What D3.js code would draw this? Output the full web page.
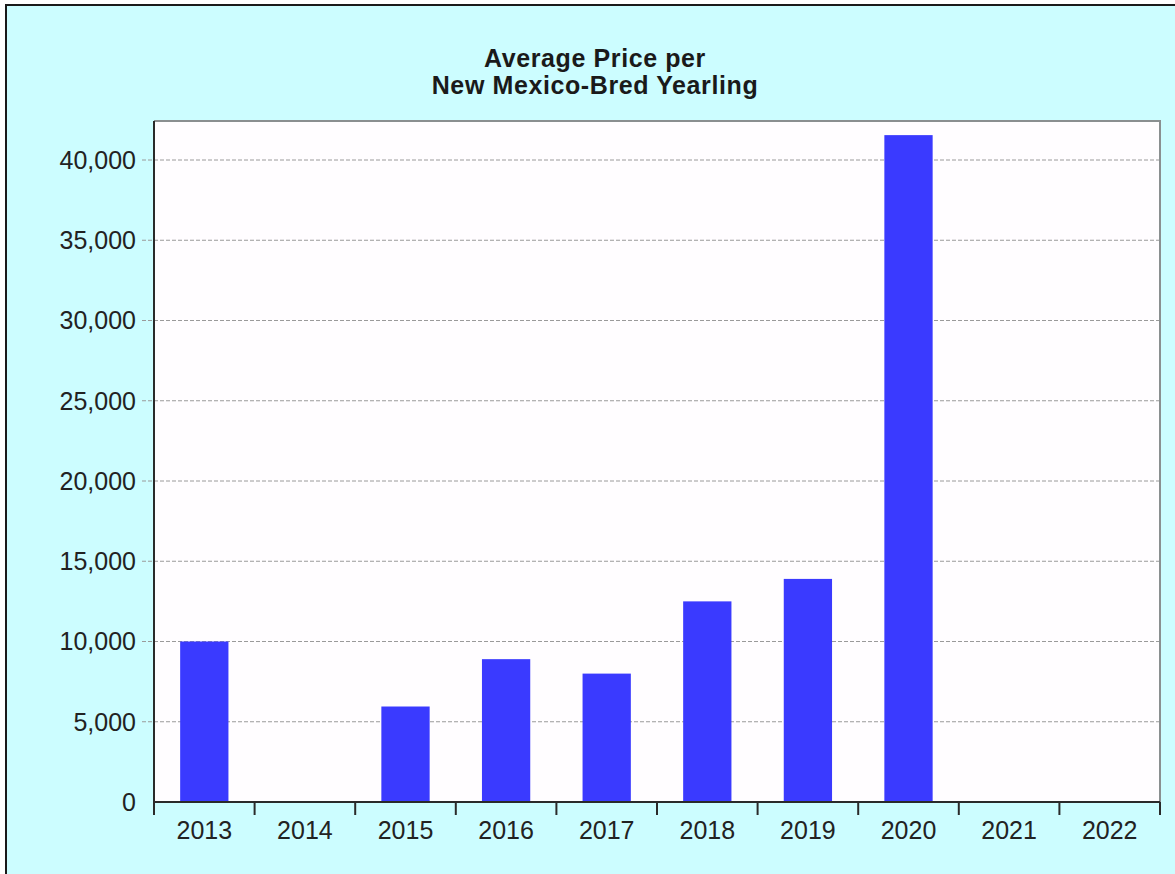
<!DOCTYPE html>
<html>
<head>
<meta charset="utf-8">
<script src="https://cdn.jsdelivr.net/npm/d3@7"></script>
<style>
  body { margin: 0; background: #fff; }
  svg { display: block; }
</style>
</head>
<body>
<svg id="chart" width="1175" height="874"></svg>
<script>
// data
var years = ["2013", "2014", "2015", "2016", "2017", "2018", "2019", "2020", "2021", "2022"];
var avgPrice = [10000, 0, 5950, 8900, 8000, 12500, 13900, 41550, 0, 0];
var yTicks = [0, 5000, 10000, 15000, 20000, 25000, 30000, 35000, 40000];
var titleLines = ["Average Price per", "New Mexico-Bred Yearling"];

(function () {
var svg = d3.select("#chart");
var pLeft = 154, pRight = 1160, pTop = 121, pBottom = 802;

// outer box
svg.append("rect")
    .attr("x", 6).attr("y", 5)
    .attr("width", 1200).attr("height", 900)
    .attr("fill", "#ccfdff")
    .attr("stroke", "#1a1a1a")
    .attr("stroke-width", 2);

// plot area
svg.append("rect")
    .attr("x", pLeft).attr("y", pTop)
    .attr("width", pRight - pLeft).attr("height", pBottom - pTop)
    .attr("fill", "#fffdff");

var x = d3.scaleBand().domain(years).range([pLeft, pRight]).padding(0);
var y = d3.scaleLinear().domain([0, 42430]).range([pBottom, pTop]);

// gridlines
svg.append("g")
  .selectAll("line")
  .data(yTicks.filter(d => d > 0))
  .join("line")
    .attr("x1", pLeft - 12).attr("x2", pRight)
    .attr("y1", d => y(d)).attr("y2", d => y(d))
    .attr("stroke", "#9a9a9a")
    .attr("stroke-width", 1)
    .attr("stroke-dasharray", "4,2");

// bars
var bw = x.bandwidth() * 0.48;
svg.append("g")
  .selectAll("rect")
  .data(years.map((d, i) => ({year: d, v: avgPrice[i]})).filter(d => d.v > 0))
  .join("rect")
    .attr("x", d => x(d.year) + (x.bandwidth() - bw) / 2)
    .attr("y", d => y(d.v))
    .attr("width", bw)
    .attr("height", d => y(0) - y(d.v))
    .attr("fill", "#3a3aff");

// plot border: top/right grey, left/bottom dark
svg.append("path")
    .attr("d", `M${pLeft},${pTop}H${pRight}V${pBottom}`)
    .attr("fill", "none").attr("stroke", "#8a8f90").attr("stroke-width", 2);
svg.append("path")
    .attr("d", `M${pLeft},${pTop}V${pBottom}H${pRight}`)
    .attr("fill", "none").attr("stroke", "#2a2a2a").attr("stroke-width", 2);

// x axis ticks at band edges
var edges = years.map(d => x(d)).concat([pRight]);
svg.append("g")
  .selectAll("line")
  .data(edges)
  .join("line")
    .attr("x1", d => d).attr("x2", d => d)
    .attr("y1", pBottom).attr("y2", pBottom + 13)
    .attr("stroke", "#2a2a2a").attr("stroke-width", 2);

svg.append("g")
  .selectAll("text")
  .data(years)
  .join("text")
    .attr("x", d => x(d) + x.bandwidth() / 2)
    .attr("y", 839)
    .attr("text-anchor", "middle")
    .attr("font-family", "Liberation Sans, Arial, sans-serif")
    .attr("font-size", 25)
    .attr("fill", "#222")
    .text(d => d);

// y labels
var fmt = d3.format(",");
svg.append("g")
  .selectAll("text")
  .data(yTicks)
  .join("text")
    .attr("x", 136)
    .attr("y", d => y(d))
    .attr("dy", "0.35em")
    .attr("text-anchor", "end")
    .attr("font-family", "Liberation Sans, Arial, sans-serif")
    .attr("font-size", 25)
    .attr("fill", "#222")
    .text(d => fmt(d));

// title
svg.append("g")
  .selectAll("text")
  .data(titleLines)
  .join("text")
    .attr("x", 595)
    .attr("y", (d, i) => 67 + i * 27)
    .attr("text-anchor", "middle")
    .attr("font-family", "Liberation Sans, Arial, sans-serif")
    .attr("font-weight", "bold")
    .attr("font-size", 25)
    .attr("letter-spacing", 0.6)
    .attr("fill", "#1a1a1a")
    .text(d => d);
})();
</script>
</body>
</html>
